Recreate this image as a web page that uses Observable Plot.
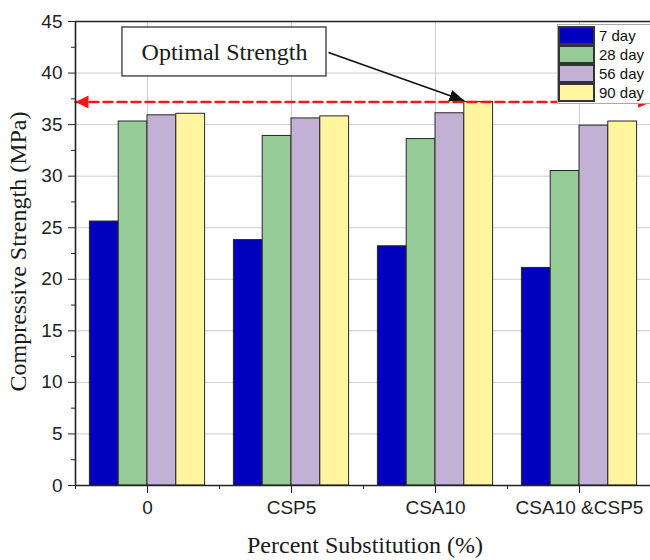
<!DOCTYPE html>
<html>
<head>
<meta charset="utf-8">
<script src="https://cdn.jsdelivr.net/npm/d3@7"></script>
<script src="https://cdn.jsdelivr.net/npm/@observablehq/plot@0.6"></script>
<style>
  html, body { margin: 0; padding: 0; background: #fff; overflow: hidden; }
  #wrap { position: relative; width: 650px; height: 560px; overflow: hidden; }
  #legend { position: absolute; left: 557px; top: 24px; width: 110px; background: #fff;
            border: 1px solid #a9a9a9; padding: 2px 0 0 1px; box-sizing: border-box; }
  #legend .lg-swatches { margin: 0; font-family: 'Liberation Sans', Arial, sans-serif; font-size: 15px; color: #111; }
  #legend .lg-swatch { padding-bottom: 2px; }
  #legend .lg-swatch > svg { margin-right: 5px; }
  #legend .lg-swatch > svg rect { stroke: #333; stroke-width: 2px; }
</style>
</head>
<body>
<div id="wrap"></div>
<script>
// ---- data ----
const categories = ["0", "CSP5", "CSA10", "CSA10 &CSP5"];
const series = ["7 day", "28 day", "56 day", "90 day"];
const day7  = [25.6, 23.8, 23.2, 21.1];
const day28 = [35.3, 33.9, 33.6, 30.5];
const day56 = [35.9, 35.6, 36.1, 34.9];
const day90 = [36.05, 35.8, 37.2, 35.3];
const optimalStrength = 37.2;
const yTicks = [0, 5, 10, 15, 20, 25, 30, 35, 40, 45];
const yMinorTicks = [2.5, 7.5, 12.5, 17.5, 22.5, 27.5, 32.5, 37.5, 42.5];
const annotationText = "Optimal Strength";
const yTitle = "Compressive Strength (MPa)";
const xTitle = "Percent Substitution (%)";

const colors = ["#0000bd", "#96cb98", "#c3b0d5", "#fff59e"];
const values = [day7, day28, day56, day90];

const rows = [];
categories.forEach((c, ci) => series.forEach((s, si) =>
  rows.push({category: c, ci, series: s, si, value: values[si][ci]})));

const groupPad = 0.1, barW = 0.2;
const centers = categories.map((c, i) => i + 0.5);
const bounds = d3.range(categories.length + 1);

// annotation geometry (data units)
const box = {x1: 0.326, x2: 1.743, y1: 39.67, y2: 44.42};
const label = {x: 1.035, y: 42.05, text: annotationText};
const pointer = {x1: 1.757, y1: 41.99, x2: 2.70, y2: optimalStrength + 0.12};

function head(len, wid) {
  return (color) => {
    const ns = "http://www.w3.org/2000/svg";
    const m = document.createElementNS(ns, "marker");
    m.setAttribute("viewBox", `${-len} ${-wid / 2} ${len} ${wid}`);
    m.setAttribute("markerUnits", "userSpaceOnUse");
    m.setAttribute("markerWidth", len);
    m.setAttribute("markerHeight", wid);
    m.setAttribute("refX", 0);
    m.setAttribute("refY", 0);
    m.setAttribute("orient", "auto-start-reverse");
    const p = document.createElementNS(ns, "path");
    p.setAttribute("d", `M${-len},${-wid / 2}L0,0L${-len},${wid / 2}Z`);
    p.setAttribute("fill", color);
    p.setAttribute("stroke", "none");
    m.appendChild(p);
    return m;
  };
}

const serif = "'Liberation Serif', 'Times New Roman', serif";

const chart = Plot.plot({
  width: 650,
  height: 560,
  marginLeft: 75,
  marginRight: 0,
  marginTop: 21,
  marginBottom: 75,
  style: {fontFamily: "'Liberation Sans', Arial, sans-serif", fontSize: "19px", color: "#222", background: "#fff", overflow: "visible"},
  x: {domain: [0, categories.length], range: [75, 651]},
  y: {domain: [0, 45]},
  color: {domain: series, range: colors},
  marks: [
    Plot.gridY(yTicks.slice(1, -1), {stroke: "#cdcdcd", strokeOpacity: 1, strokeWidth: 1}),
    Plot.gridX(centers, {stroke: "#cdcdcd", strokeOpacity: 1, strokeWidth: 1}),
    Plot.rectY(rows, {
      x1: d => d.ci + groupPad + d.si * barW,
      x2: d => d.ci + groupPad + (d.si + 1) * barW,
      y1: 0, y2: "value", fill: "series", stroke: "#262626", strokeWidth: 1
    }),
    Plot.line([[0, optimalStrength], [categories.length, optimalStrength]], {
      stroke: "#f01818", strokeWidth: 2.5, strokeDasharray: "9,5",
      markerStart: head(13, 13), markerEnd: head(14, 12)
    }),
    Plot.ruleX([0], {stroke: "#222", strokeWidth: 1.6}),
    Plot.ruleY([0, 45], {stroke: "#222", strokeWidth: 1.6}),
    Plot.axisY(yTicks, {tickSize: 7, tickPadding: 6, label: null, stroke: "#222"}),
    Plot.axisY(yMinorTicks, {tickSize: 4, tickFormat: () => "", label: null, stroke: "#222"}),
    Plot.axisX(centers, {tickSize: 8, tickPadding: 7, label: null, stroke: "#222",
      tickFormat: d => categories[Math.floor(d)]}),
    Plot.axisX(bounds, {tickSize: 4, tickFormat: () => "", label: null, stroke: "#222"}),
    Plot.rect([box], {x1: "x1", x2: "x2", y1: "y1", y2: "y2", fill: "#fff", stroke: "#333", strokeWidth: 1.3}),
    Plot.text([label], {x: "x", y: "y", text: "text", fontFamily: serif, fontSize: 24, fill: "#1a1a1a"}),
    Plot.link([pointer], {x1: "x1", y1: "y1", x2: "x2", y2: "y2", stroke: "#111", strokeWidth: 1.6,
      markerEnd: head(15, 12)}),
    Plot.text([yTitle], {frameAnchor: "left", textAnchor: "middle", lineAnchor: "middle", rotate: -90,
      dx: -57, dy: -2, fontFamily: serif, fontSize: 24, fill: "#1a1a1a"}),
    Plot.text([xTitle], {frameAnchor: "bottom", textAnchor: "middle", lineAnchor: "middle",
      dx: 2, dy: 60, fontFamily: serif, fontSize: 24, fill: "#1a1a1a"})
  ]
});

const wrap = document.getElementById("wrap");
wrap.appendChild(chart);

const legend = Plot.legend({
  color: {domain: series, range: colors},
  columns: 1,
  swatchWidth: 35,
  swatchHeight: 17,
  className: "lg"
});
const lg = document.createElement("div");
lg.id = "legend";
lg.appendChild(legend);
wrap.appendChild(lg);
</script>
</body>
</html>
